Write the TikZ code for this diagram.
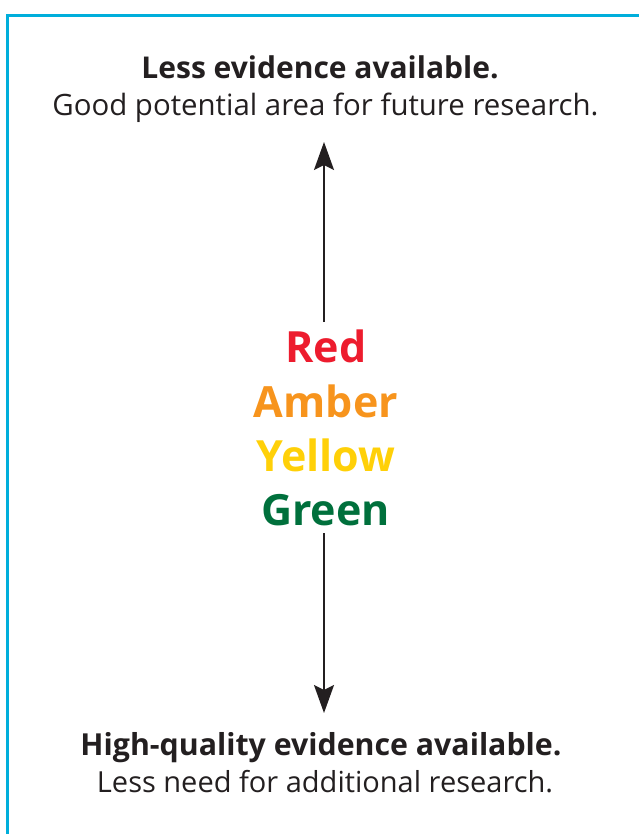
\documentclass[tikz,border=0pt]{standalone}
\usepackage{fontspec}
\setmainfont{Open Sans}
\usetikzlibrary{arrows.meta}
\definecolor{frame}{HTML}{00AEDB}
\definecolor{cred}{HTML}{ED1C2E}
\definecolor{camber}{HTML}{F7941D}
\definecolor{cyellow}{HTML}{FFD008}
\definecolor{cgreen}{HTML}{00703C}
\definecolor{ink}{HTML}{231F20}
\tikzset{
  head/.style={anchor=base, font=\fontsize{30}{34}\selectfont\bfseries, text=ink, inner sep=0pt},
  sub/.style={anchor=base, font=\fontsize{29.4}{34}\selectfont, text=ink, inner sep=0pt},
  rag/.style={anchor=base, font=\fontsize{43}{50}\selectfont\bfseries, inner sep=0pt},
  evarrow/.style={draw=ink, line width=2pt, -{Stealth[length=28pt,width=20pt,inset=5pt]}}
}
\begin{document}
\begin{tikzpicture}[x=1pt,y=-1pt]
\useasboundingbox (0,0) rectangle (638,834);
\draw[frame, line width=2.5pt] (7.5,845) -- (7.5,15.5) -- (650,15.5);
\node[head] (t1) at (320,79) {Less evidence available.};
\node[sub] (t2) at (325.5,116) {Good potential area for future research.};
\node[rag, text=cred] (red) at (326,362) {Red};
\node[rag, text=camber] (amber) at (326,417) {Amber};
\node[rag, text=cyellow] (yellow) at (326,471) {Yellow};
\node[rag, text=cgreen] (green) at (325.5,525) {Green};
\coordinate (upS) at (324,322);
\coordinate (upE) at (324,142);
\coordinate (dnS) at (324,533);
\coordinate (dnE) at (324,713);
\draw[evarrow] (upS) -- (upE);
\draw[evarrow] (dnS) -- (dnE);
\node[head, font=\fontsize{30.3}{34}\selectfont\bfseries] (b1) at (321,755) {High-quality evidence available.};
\node[sub, font=\fontsize{29}{34}\selectfont] (b2) at (325,792) {Less need for additional research.};
\end{tikzpicture}
\end{document}
